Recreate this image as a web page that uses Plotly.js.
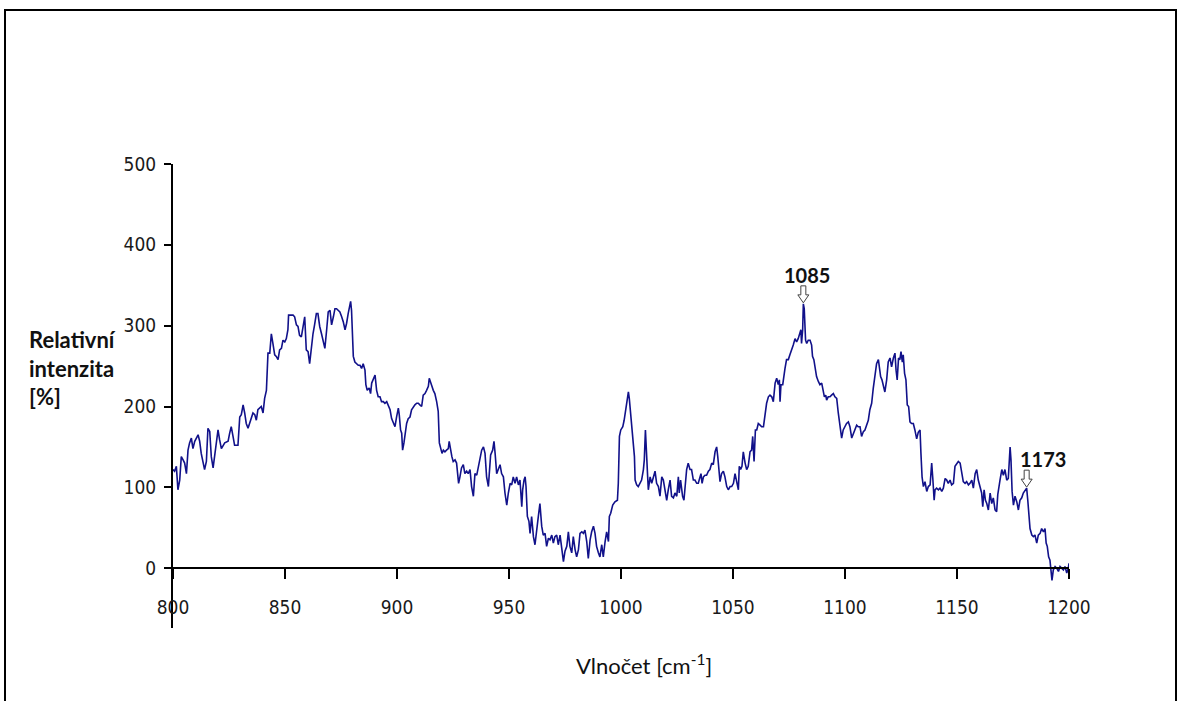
<!DOCTYPE html>
<html>
<head>
<meta charset="utf-8">
<script src="https://cdn.plot.ly/plotly-3.0.1.min.js"></script>
<style>
  html, body { margin: 0; padding: 0; background: #fff; }
  #wrap { position: relative; width: 1181px; height: 701px; overflow: hidden; }
  #chart { position: absolute; left: 0; top: 0; width: 1181px; height: 701px; }
  #frame { position: absolute; left: 4px; top: 9px; width: 1173px; height: 720px;
           border: 2px solid #000; box-sizing: border-box; pointer-events: none; }
</style>
</head>
<body>
<div id="wrap">
  <div id="chart"></div>
  <div id="frame"></div>
</div>
<script>
// Raman spectrum, wavenumber [cm-1] vs relative intensity [%], in six bands

const wn800 = [
  800, 800.7, 801.5, 802.2, 803, 803.7, 804.5, 805.2, 806, 806.7,
  807.4, 808.2, 808.9, 809.7, 811.2, 811.9, 812.6, 813.4, 814.1, 814.9,
  815.6, 816.4, 817.1, 817.9, 818.6, 819.3, 820.1, 820.8, 821.6, 823.1,
  824.6, 825.3, 826, 826.8, 827.5, 829, 829.8, 830.5, 831.3, 832,
  832.7, 833.5, 834.2, 835, 835.7, 836.5, 837.2, 837.9, 838.7, 839.4,
  840.2, 840.9, 841.7, 842.4, 843.2, 843.9, 844.6, 845.4, 846.1, 846.9,
  847.6, 848.4, 849.1, 849.9, 850.6, 851.3, 851.6, 853.6, 854.3, 855.1,
  855.8, 856.5, 857.3, 858, 858.8, 859.5, 860.3, 861, 861.8, 862.5,
  863.2, 864, 864.7, 865.5
];
const int800 = [
  122, 120, 126, 97, 109, 138, 134, 130, 117, 146,
  155, 161, 148, 157, 165, 157, 142, 130, 122, 132,
  173, 169, 138, 124, 138, 155, 171, 159, 148, 155,
  157, 167, 175, 163, 152, 152, 187, 190, 202, 192,
  179, 173, 179, 187, 192, 190, 183, 196, 198, 200,
  192, 210, 220, 266, 266, 290, 278, 264, 262, 258,
  270, 272, 282, 280, 284, 295, 313, 313, 311, 301,
  299, 288, 286, 299, 311, 270, 268, 253, 278, 290,
  301, 315, 315, 299
];

const wn866 = [
  866.3, 867.8, 868.6, 869.3, 870.1, 870.8, 871.6, 872.3, 873, 873.8,
  874.5, 875.3, 876, 876.8, 877.5, 878.2, 878.7, 879.3, 879.7, 880.2,
  880.5, 881.2, 882, 882.7, 883.5, 884.2, 884.9, 885.7, 886.1, 886.7,
  887.6, 888.2, 888.7, 889.4, 890.2, 890.9, 891.6, 892.4, 893.1, 893.9,
  894.6, 895.4, 896.1, 896.9, 897.6, 898.3, 899.1, 899.8, 900.6, 901,
  901.6, 902.1, 902.5, 903.1, 903.5, 904.3, 905, 905.8, 906.5, 907.3,
  908, 908.8, 909.5, 910.2, 911, 911.7, 912.5, 913.2, 914, 914.4,
  915, 915.6, 916.2, 916.9, 917.7, 918.4, 918.9, 919.5, 920.1, 920.7,
  921.4, 922.1, 922.9, 923.3, 923.9, 924.5, 925.1, 925.9, 926.6, 927.1,
  927.5, 928.1, 928.8, 929.6, 930.3, 931.1, 931.8
];
const int866 = [
  290, 272, 295, 317, 319, 301, 311, 321, 321, 319,
  317, 311, 305, 295, 303, 315, 323, 330, 319, 290,
  262, 255, 253, 251, 251, 247, 253, 245, 227, 220,
  223, 216, 229, 235, 239, 220, 212, 212, 206, 206,
  204, 206, 200, 196, 185, 179, 175, 187, 198, 190,
  171, 167, 146, 155, 163, 179, 185, 187, 196, 200,
  202, 204, 204, 202, 200, 214, 216, 220, 225, 235,
  231, 225, 220, 216, 206, 194, 155, 148, 142, 146,
  144, 146, 148, 157, 146, 138, 132, 134, 130, 115,
  105, 113, 124, 128, 117, 120, 117
];

const wn932 = [
  932.6, 933.3, 934.1, 934.8, 935.6, 936.3, 937.1, 937.8, 938.6, 939.3,
  940, 940.8, 941.2, 941.8, 942.7, 943.3, 943.8, 944.5, 945.2, 946,
  946.7, 947.5, 948.2, 949, 949.7, 950.5, 951.2, 951.9, 952.7, 953.4,
  954.2, 954.9, 955.7, 956.1, 956.7, 957.2, 957.6, 958.2, 958.9, 959.4,
  960.1, 960.9, 961.6, 962.4, 963.1, 963.8, 964.6, 965.3, 966.1, 966.8,
  967.6, 968.3, 969.1, 969.8, 970.5, 971.3, 972, 972.8, 973.5, 974.3,
  975, 975.8, 976.5, 977.2, 978, 978.7, 979.5, 980.2, 981, 981.7,
  982.5, 983.2, 983.9, 984.7, 985.4, 986.2, 986.9, 987.7, 988.4, 989.1,
  989.9, 990.6, 991.4, 992.1, 992.9, 993.6, 994.4, 994.8, 995.4, 996.3,
  997.3, 998.4, 998.8, 999.3, 999.9, 1000.8, 1001.4, 1001.9, 1002.5, 1003.3,
  1003.7
];
const int932 = [
  122, 101, 89, 117, 115, 126, 140, 146, 150, 142,
  113, 101, 117, 140, 146, 157, 142, 117, 122, 128,
  117, 113, 93, 78, 93, 105, 103, 113, 105, 113,
  103, 109, 76, 97, 109, 113, 101, 64, 58, 43,
  64, 39, 29, 52, 64, 80, 52, 41, 43, 27,
  37, 35, 41, 31, 39, 41, 29, 41, 27, 8,
  21, 27, 45, 27, 19, 39, 23, 14, 23, 43,
  45, 43, 47, 33, 12, 35, 45, 52, 43, 27,
  19, 14, 29, 14, 33, 45, 33, 64, 68, 78,
  82, 84, 105, 163, 171, 175, 183, 194, 204, 218,
  210
];

const wn1004 = [
  1004.3, 1004.8, 1005.5, 1006, 1006.3, 1007, 1007.7, 1008.5, 1009.2, 1010,
  1010.4, 1010.9, 1011.2, 1011.5, 1011.9, 1012.2, 1013, 1013.7, 1014.4, 1015.2,
  1015.9, 1016.7, 1017.4, 1018.2, 1018.9, 1019.6, 1020.4, 1021.1, 1021.9, 1022.6,
  1023.4, 1024.1, 1024.9, 1025.6, 1026, 1026.6, 1027.5, 1028.1, 1028.7, 1029.3,
  1030, 1030.8, 1031.5, 1032.3, 1033, 1033.8, 1034.5, 1035.3, 1035.7, 1036.2,
  1036.8, 1037.5, 1038.2, 1039, 1039.7, 1040.5, 1041.2, 1042, 1042.7, 1043.2,
  1043.6, 1044.2, 1044.9, 1045.7, 1046.4, 1047.2, 1047.9, 1048.7, 1049.4, 1050.2,
  1050.9, 1051.6, 1052.4, 1052.8, 1053.4, 1054, 1054.6, 1055.4, 1056.1, 1056.8,
  1057.6, 1058.3, 1058.8, 1059.4, 1060, 1060.6, 1061.3, 1062.1, 1062.8, 1063.6,
  1064.3, 1065, 1065.8, 1066.5, 1067.3, 1068, 1068.8, 1069.5, 1070.2, 1070.7
];
const int1004 = [
  192, 167, 155, 138, 109, 103, 101, 105, 109, 122,
  134, 171, 150, 122, 113, 97, 113, 105, 113, 120,
  105, 101, 89, 113, 109, 97, 84, 97, 109, 89,
  87, 93, 89, 113, 93, 109, 89, 84, 101, 122,
  130, 122, 122, 109, 109, 105, 105, 113, 117, 105,
  113, 115, 115, 120, 122, 130, 128, 144, 150, 138,
  122, 107, 117, 120, 113, 101, 97, 101, 101, 105,
  117, 109, 97, 126, 122, 126, 144, 130, 122, 126,
  144, 146, 163, 132, 171, 171, 179, 177, 175, 175,
  192, 204, 212, 214, 212, 206, 229, 235, 227, 233
];

const wn1071 = [
  1071, 1071.4, 1072.2, 1072.8, 1073.2, 1073.9, 1074.7, 1075.4, 1076.2, 1076.9,
  1077.7, 1078.4, 1079.1, 1079.9, 1080.3, 1080.6, 1081.1, 1081.4, 1081.8, 1082.4,
  1082.9, 1083.6, 1084.4, 1085.1, 1085.5, 1086.1, 1086.7, 1087.3, 1088.1, 1088.8,
  1089.6, 1090.3, 1090.8, 1091.4, 1091.8, 1092.5, 1093.3, 1094, 1094.8, 1095.5,
  1096.3, 1097, 1097.5, 1098.1, 1098.5, 1099.2, 1100, 1100.7, 1101.5, 1102.2,
  1103, 1103.7, 1104.4, 1105.2, 1105.9, 1106.7, 1107.4, 1108.2, 1108.9, 1109.7,
  1110.4, 1111.1, 1111.9, 1112.6, 1113.4, 1114.1, 1114.9, 1115.3, 1115.9, 1116.5,
  1117.1, 1117.8, 1118.6, 1119.3, 1120.1, 1120.8, 1121.6, 1122.3, 1122.8, 1123.3,
  1123.9, 1124.5, 1125, 1125.6, 1126, 1126.6, 1127.2, 1127.8, 1128.4, 1129,
  1129.7, 1130.5, 1131.2, 1132, 1132.7, 1133.5
];
const int1071 = [
  206, 227, 227, 245, 247, 258, 258, 264, 270, 276,
  284, 280, 284, 293, 295, 278, 295, 327, 321, 282,
  278, 282, 282, 276, 262, 258, 249, 237, 231, 227,
  229, 216, 212, 214, 208, 212, 212, 214, 216, 212,
  210, 192, 179, 167, 161, 171, 175, 179, 181, 175,
  161, 167, 171, 177, 175, 175, 163, 169, 171, 179,
  183, 196, 204, 222, 239, 253, 258, 249, 237, 233,
  227, 218, 233, 255, 260, 249, 260, 266, 245, 233,
  260, 258, 268, 255, 264, 241, 233, 202, 200, 181,
  179, 179, 171, 160, 168, 171
];

const wn1134 = [
  1133.9, 1134.4, 1135, 1135.7, 1136.5, 1137.2, 1138, 1138.7, 1139.2, 1139.8,
  1140.2, 1140.9, 1141.7, 1142.4, 1143.2, 1143.9, 1144.7, 1145.4, 1146.1, 1146.9,
  1147.6, 1148.4, 1149.1, 1149.9, 1150.6, 1151.4, 1152.1, 1152.8, 1153.6, 1154.3,
  1155.1, 1155.8, 1156.6, 1157.3, 1158.1, 1158.8, 1159.5, 1160.3, 1161, 1161.5,
  1162.1, 1162.7, 1163.3, 1164, 1164.8, 1165.5, 1166.2, 1167, 1167.7, 1168.2,
  1168.8, 1169.2, 1170, 1170.7, 1171.4, 1172.2, 1172.9, 1173.7, 1174.1, 1174.6,
  1175.2, 1175.9, 1176.7, 1177.4, 1178.1, 1178.9, 1179.6, 1180.4, 1181.1, 1181.6,
  1182.2, 1182.6, 1183.4, 1184.1, 1184.8, 1185.6, 1186.3, 1187.1, 1187.8, 1188.6,
  1189.3, 1189.8, 1190.3, 1190.9, 1191.5, 1192, 1192.4, 1193, 1193.8, 1194.5,
  1195.3, 1196, 1196.7, 1197.5, 1198.2, 1199, 1199.7, 1200
];
const int1134 = [
  142, 113, 101, 107, 95, 101, 103, 130, 111, 84,
  97, 99, 97, 99, 95, 99, 111, 109, 105, 109,
  103, 105, 126, 130, 132, 130, 117, 107, 105, 107,
  103, 105, 109, 99, 117, 122, 109, 99, 93, 76,
  97, 84, 80, 72, 93, 80, 87, 72, 70, 91,
  105, 109, 122, 115, 122, 109, 111, 150, 134, 95,
  78, 89, 82, 72, 84, 87, 93, 97, 99, 84,
  56, 49, 41, 39, 41, 31, 41, 43, 49, 45,
  49, 31, 27, 14, 10, -2, -15, -2, 2, 0,
  -4, 2, 0, -2, 2, -6, 0, 6
];

// Axis ticks
const xTicks = [800, 850, 900, 950, 1000, 1050, 1100, 1150, 1200];
const yTicks = [0, 100, 200, 300, 400, 500];

// Labelled bands: text shown and the wavenumber of the marked point
const bandLabels = ['1085', '1173'];
const bandMarks = [1081.4, 1181.1];

const wavenumber = [].concat(wn800, wn866, wn932, wn1004, wn1071, wn1134);
const intensity = [].concat(int800, int866, int932, int1004, int1071, int1134);

function nearestIndex(v) {
  let best = 0;
  for (let i = 1; i < wavenumber.length; i++) {
    if (Math.abs(wavenumber[i] - v) < Math.abs(wavenumber[best] - v)) best = i;
  }
  return best;
}

const tickFont = { family: '"Liberation Sans Narrow", "Arial Narrow", "DejaVu Sans Condensed", "Liberation Sans", sans-serif', size: 19, color: '#1a1a1a' };
const textFont = 'Lato, "Open Sans", sans-serif';

const trace = {
  type: 'scatter',
  mode: 'lines',
  x: wavenumber,
  y: intensity,
  line: { color: '#11118a', width: 1.6 },
  hoverinfo: 'x+y'
};

const annotations = [];
const shapes = [];
bandLabels.forEach(function (label, k) {
  const i = nearestIndex(bandMarks[k]);
  const px = wavenumber[i], py = intensity[i];
  annotations.push({
    x: px, y: py, xref: 'x', yref: 'y', showarrow: false,
    text: '<b>' + label + '</b>',
    xshift: k === 0 ? 4 : 16, yshift: 29,
    font: { family: textFont, size: 20, color: '#111' }
  });
  // hollow down arrow pointing at the band
  shapes.push({
    type: 'path', xref: 'x', yref: 'y',
    xsizemode: 'pixel', ysizemode: 'pixel', xanchor: px, yanchor: py,
    path: 'M0,1 L-5.5,9 L-2.5,9 L-2.5,18 L2.5,18 L2.5,9 L5.5,9 Z',
    fillcolor: '#fff', line: { color: '#444', width: 1 }
  });
});

// vertical axis caption, written horizontally on three lines
annotations.push({
  xref: 'paper', yref: 'paper', x: -0.163, y: 0.560,
  xanchor: 'left', yanchor: 'middle', align: 'left', showarrow: false,
  text: '<b>Relativní<br>intenzita<br>[%]</b>',
  font: { family: textFont, size: 22, color: '#111' }
});
// horizontal axis caption
annotations.push({
  xref: 'paper', yref: 'paper', x: 0.5257, y: -0.0795,
  xanchor: 'center', yanchor: 'middle', showarrow: false,
  text: 'Vlnočet [cm<sup>-1</sup>]',
  font: { family: textFont, size: 22, color: '#111' }
});

const yMin = -74, yMax = 500;

const layout = {
  width: 1181, height: 701,
  margin: { l: 173, r: 112, t: 164, b: 73, pad: 0 },
  paper_bgcolor: '#fff', plot_bgcolor: '#fff',
  showlegend: false,
  xaxis: {
    range: [800, 1200], tickvals: xTicks, ticktext: xTicks.map(String),
    anchor: 'free', position: (0 - yMin) / (yMax - yMin),
    showline: true, linecolor: '#000', linewidth: 2,
    ticks: 'outside', ticklen: 10, tickwidth: 2, tickcolor: '#000',
    showgrid: false, zeroline: false, fixedrange: true,
    tickfont: tickFont, ticklabelstandoff: 12
  },
  yaxis: {
    range: [yMin, yMax], tickvals: yTicks, ticktext: yTicks.map(String),
    showline: true, linecolor: '#000', linewidth: 2,
    ticks: 'outside', ticklen: 7, tickwidth: 2, tickcolor: '#000',
    showgrid: false, zeroline: false, fixedrange: true,
    tickfont: tickFont, ticklabelstandoff: 4
  },
  annotations: annotations,
  shapes: shapes
};

Plotly.newPlot('chart', [trace], layout, { displayModeBar: false, staticPlot: true });
</script>
</body>
</html>
